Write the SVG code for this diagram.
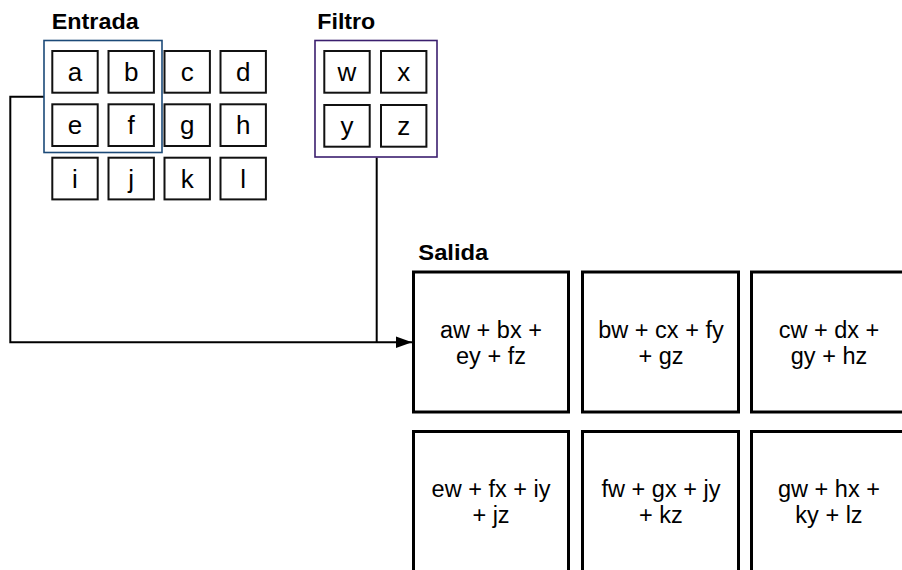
<svg xmlns="http://www.w3.org/2000/svg" width="902" height="570" viewBox="0 0 902 570">
<style>
.title{font-family:"Liberation Sans",Arial,sans-serif;font-weight:bold;font-size:22px;fill:#000}
.cell{fill:#fff;stroke:#111;stroke-width:2}
.lt{font-family:"Liberation Sans",Arial,sans-serif;font-size:26px;fill:#000;text-anchor:middle}
.out{fill:#fff;stroke:#000;stroke-width:3}
.ot{font-family:"Liberation Sans",Arial,sans-serif;font-size:23.5px;fill:#000;text-anchor:middle}
.conn{fill:none;stroke:#000;stroke-width:2}
</style>
<defs>
<marker id="arrow" markerUnits="userSpaceOnUse" markerWidth="16" markerHeight="12" refX="16" refY="6" orient="auto">
<path d="M0,0.3 L16,6 L0,11.7 Z" fill="#000"/>
</marker>
</defs>
<rect width="902" height="570" fill="#fff"/>

<g id="connectors">
<path class="conn" d="M44,96.7 H10.3 V342.3 H412" marker-end="url(#arrow)"/>
<path class="conn" d="M376.7,157.5 V342.3"/>
</g>

<g id="entrada">
<text class="title" x="51.7" y="29" textLength="87" lengthAdjust="spacingAndGlyphs">Entrada</text>
<rect x="52.3" y="51" width="45.4" height="41.7" class="cell"/>
<rect x="108.5" y="51" width="45.4" height="41.7" class="cell"/>
<rect x="164.5" y="51" width="45.4" height="41.7" class="cell"/>
<rect x="220.5" y="51" width="45.4" height="41.7" class="cell"/>
<rect x="52.3" y="104.3" width="45.4" height="41.7" class="cell"/>
<rect x="108.5" y="104.3" width="45.4" height="41.7" class="cell"/>
<rect x="164.5" y="104.3" width="45.4" height="41.7" class="cell"/>
<rect x="220.5" y="104.3" width="45.4" height="41.7" class="cell"/>
<rect x="52.3" y="157.7" width="45.4" height="41.7" class="cell"/>
<rect x="108.5" y="157.7" width="45.4" height="41.7" class="cell"/>
<rect x="164.5" y="157.7" width="45.4" height="41.7" class="cell"/>
<rect x="220.5" y="157.7" width="45.4" height="41.7" class="cell"/>
<text class="lt" x="75" y="81">a</text>
<text class="lt" x="131.2" y="81">b</text>
<text class="lt" x="187.2" y="81">c</text>
<text class="lt" x="243.2" y="81">d</text>
<text class="lt" x="75" y="134.3">e</text>
<text class="lt" x="131.2" y="134.3">f</text>
<text class="lt" x="187.2" y="134.3">g</text>
<text class="lt" x="243.2" y="134.3">h</text>
<text class="lt" x="75" y="187.7">i</text>
<text class="lt" x="131.2" y="187.7">j</text>
<text class="lt" x="187.2" y="187.7">k</text>
<text class="lt" x="243.2" y="187.7">l</text>
<rect x="44" y="40.5" width="118" height="112" fill="none" stroke="#1c4a78" stroke-width="1.6"/>
</g>

<g id="filtro">
<text class="title" x="317.3" y="29" textLength="58" lengthAdjust="spacingAndGlyphs">Filtro</text>
<rect x="315" y="40.5" width="122" height="116.5" fill="#fff" stroke="#3b1f6e" stroke-width="1.6"/>
<rect x="324.3" y="51" width="45.4" height="41.7" class="cell"/>
<rect x="381" y="51" width="45.4" height="41.7" class="cell"/>
<rect x="324.3" y="105" width="45.4" height="41.7" class="cell"/>
<rect x="381" y="105" width="45.4" height="41.7" class="cell"/>
<text class="lt" x="347" y="81">w</text>
<text class="lt" x="403.7" y="81">x</text>
<text class="lt" x="347" y="135">y</text>
<text class="lt" x="403.7" y="135">z</text>
</g>

<g id="salida">
<text class="title" x="418.3" y="260" textLength="70" lengthAdjust="spacingAndGlyphs">Salida</text>
<rect x="413.5" y="272" width="155" height="140" class="out"/>
<rect x="582.5" y="272" width="156" height="140" class="out"/>
<rect x="751.5" y="272" width="156" height="140" class="out"/>
<rect x="413.5" y="431.5" width="155" height="150" class="out"/>
<rect x="582.5" y="431.5" width="156" height="150" class="out"/>
<rect x="751.5" y="431.5" width="156" height="150" class="out"/>
<text class="ot" x="491" y="337.5">aw + bx +</text>
<text class="ot" x="491" y="363.5">ey + fz</text>
<text class="ot" x="661" y="337.5">bw + cx + fy</text>
<text class="ot" x="661" y="363.5">+ gz</text>
<text class="ot" x="829" y="337.5">cw + dx +</text>
<text class="ot" x="829" y="363.5">gy + hz</text>
<text class="ot" x="491" y="497">ew + fx + iy</text>
<text class="ot" x="491" y="523">+ jz</text>
<text class="ot" x="661" y="497">fw + gx + jy</text>
<text class="ot" x="661" y="523">+ kz</text>
<text class="ot" x="829" y="497">gw + hx +</text>
<text class="ot" x="829" y="523">ky + lz</text>
</g>
</svg>
